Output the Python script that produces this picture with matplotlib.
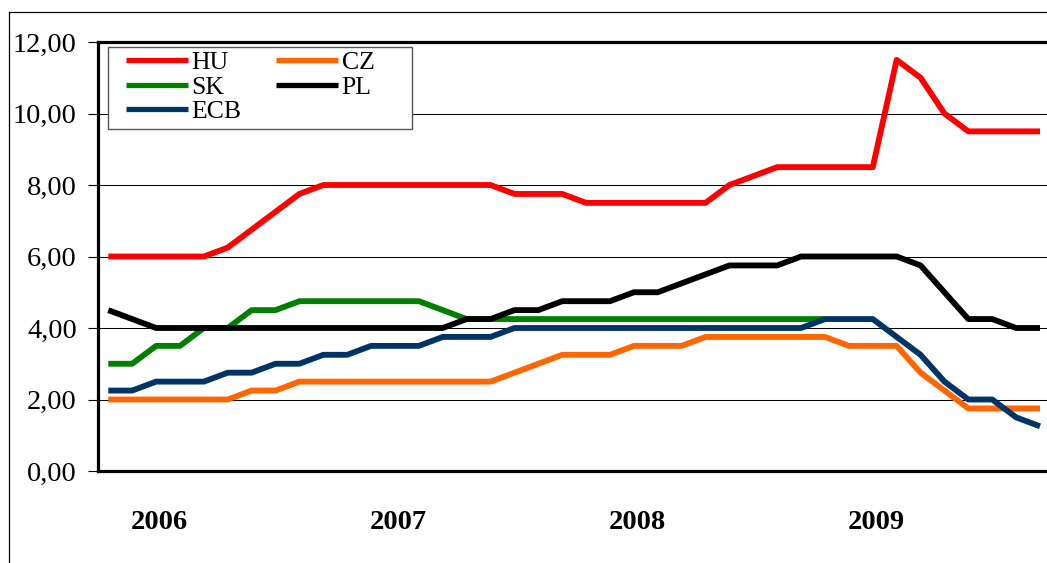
import numpy as np
import matplotlib
matplotlib.use("Agg")
import matplotlib.pyplot as plt
from matplotlib.ticker import FuncFormatter
from matplotlib.lines import Line2D
from matplotlib.patches import Rectangle

# ---- data ----
series_names = ["HU", "CZ", "SK", "PL", "ECB"]
hu = [6.0, 6.0, 6.0, 6.0, 6.0, 6.25, 6.75, 7.25, 7.75,
      8.0, 8.0, 8.0, 8.0, 8.0, 8.0, 8.0, 8.0,
      7.75, 7.75, 7.75,
      7.5, 7.5, 7.5, 7.5, 7.5, 7.5,
      8.0, 8.25, 8.5, 8.5, 8.5, 8.5, 8.5,
      11.5, 11.0, 10.0, 9.5, 9.5, 9.5, 9.5]
cz = [2.0, 2.0, 2.0, 2.0, 2.0, 2.0, 2.25, 2.25,
      2.5, 2.5, 2.5, 2.5, 2.5, 2.5, 2.5, 2.5, 2.5,
      2.75, 3.0, 3.25, 3.25, 3.25, 3.5, 3.5, 3.5,
      3.75, 3.75, 3.75, 3.75, 3.75, 3.75,
      3.5, 3.5, 3.5, 2.75, 2.25, 1.75, 1.75, 1.75, 1.75]
sk = [3.0, 3.0, 3.5, 3.5, 4.0, 4.0, 4.5, 4.5,
      4.75, 4.75, 4.75, 4.75, 4.75, 4.75, 4.5,
      4.25, 4.25, 4.25, 4.25, 4.25, 4.25, 4.25, 4.25,
      4.25, 4.25, 4.25, 4.25, 4.25, 4.25, 4.25, 4.25]
pl = [4.5, 4.25, 4.0, 4.0, 4.0, 4.0, 4.0, 4.0, 4.0, 4.0, 4.0, 4.0, 4.0, 4.0, 4.0,
      4.25, 4.25, 4.5, 4.5, 4.75, 4.75, 4.75, 5.0, 5.0, 5.25, 5.5,
      5.75, 5.75, 5.75, 6.0, 6.0, 6.0, 6.0, 6.0,
      5.75, 5.0, 4.25, 4.25, 4.0, 4.0]
ecb = [2.25, 2.25, 2.5, 2.5, 2.5, 2.75, 2.75, 3.0, 3.0, 3.25, 3.25,
       3.5, 3.5, 3.5, 3.75, 3.75, 3.75,
       4.0, 4.0, 4.0, 4.0, 4.0, 4.0, 4.0, 4.0, 4.0, 4.0, 4.0, 4.0, 4.0,
       4.25, 4.25, 4.25, 3.75, 3.25, 2.5, 2.0, 2.0, 1.5, 1.25]
year_labels = ["2006", "2007", "2008", "2009"]
points_per_year = 10
year_label_offset = 2.15

colors = {"HU": "#FF0000", "CZ": "#FF6600", "SK": "#008000",
          "PL": "#000000", "ECB": "#003366"}
values = {"HU": hu, "CZ": cz, "SK": sk, "PL": pl, "ECB": ecb}

plt.rcParams["font.family"] = ["Liberation Serif", "DejaVu Serif"]

W, H = 1047, 563
fig = plt.figure(figsize=(W / 100, H / 100), dpi=100)
fig.patch.set_facecolor("white")

# axes placement (pixel based)
ax_left, ax_top, ax_bottom = 98, 42, 471
ax = fig.add_axes([ax_left / W, 1 - ax_bottom / H, 1 - ax_left / W,
                   (ax_bottom - ax_top) / H])

handles = {}
for name in series_names:
    v = values[name]
    x = np.arange(len(v))
    ln, = ax.plot(x, v, color=colors[name], lw=4.2,
                  solid_joinstyle="round", solid_capstyle="butt", zorder=3)
    handles[name] = ln

x0_px, step_px = 108.3, 23.89
ax.set_xlim((ax_left - x0_px) / step_px, (W - x0_px) / step_px)
ax.set_ylim(0, 12)
ax.set_yticks(np.arange(0, 12.01, 2))
ax.yaxis.set_major_formatter(FuncFormatter(lambda v, p: f"{v:.2f}".replace(".", ",")))
ax.tick_params(axis="y", direction="out", length=7.2, width=0.8, pad=8,
               labelsize=20.5, color="black")
ax.yaxis.grid(True, color="black", lw=0.75)
ax.set_axisbelow(True)

year_pos = [year_label_offset + points_per_year * i for i in range(len(year_labels))]
ax.set_xticks(year_pos)
ax.set_xticklabels(year_labels, fontsize=20.5, fontweight="bold")
ax.tick_params(axis="x", length=0, pad=28)

for s in ["left", "bottom", "top"]:
    ax.spines[s].set_linewidth(2.3)
    ax.spines[s].set_color("black")
ax.spines["right"].set_visible(False)

# legend box (drawn inside the axes, beneath the legend)
ax.add_patch(Rectangle((108 / W, 1 - 129 / H), (412 - 108) / W, (129 - 47) / H,
                       transform=fig.transFigure, fill=True, facecolor="white",
                       edgecolor="#555555", lw=1.0, zorder=4, clip_on=False))

# legend
order = ["HU", "SK", "ECB", "CZ", "PL"]
leg = ax.legend([handles[n] for n in order], order, ncol=2, frameon=False,
                loc="upper left", bbox_to_anchor=((126 - ax_left) / (W - ax_left),
                                                  1 - (51 - ax_top) / (ax_bottom - ax_top)),
                fontsize=18.5, handlelength=2.4, handletextpad=0.15,
                labelspacing=0.06, columnspacing=1.35, borderpad=0.0,
                borderaxespad=0.0)
leg.set_zorder(5)
for lh in leg.get_lines():
    lh.set_linewidth(3.8)

# outer chart-area border (top and left edges)
fig.add_artist(Line2D([8.5 / W, 1.0], [1 - 12 / H, 1 - 12 / H],
                      transform=fig.transFigure, color="black", lw=0.9))
fig.add_artist(Line2D([8.5 / W, 8.5 / W], [0, 1 - 12 / H],
                      transform=fig.transFigure, color="black", lw=0.9))

fig.savefig("out.png", dpi=100, facecolor="white")
